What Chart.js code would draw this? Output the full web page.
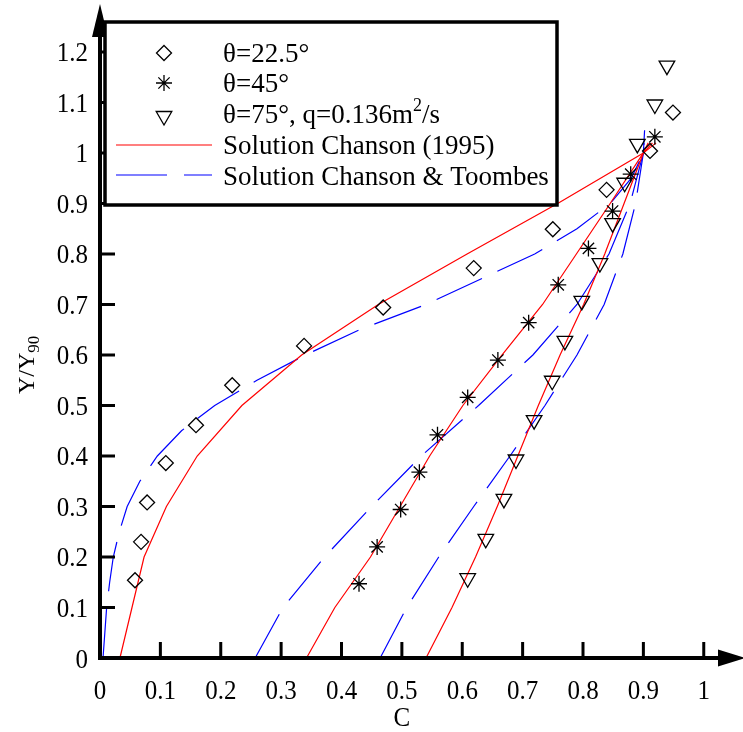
<!DOCTYPE html>
<html>
<head>
<meta charset="utf-8">
<script src="https://cdn.jsdelivr.net/npm/chart.js@4/dist/chart.umd.min.js"></script>
<style>
html,body{margin:0;padding:0;background:#fff;}
#c{display:block;}
</style>
</head>
<body>
<canvas id="c" width="743" height="732"></canvas>
<script>
// ---- Data ----
// Measured points, theta = 22.5 deg (diamonds)
const d225C = [0.058, 0.068, 0.078, 0.109, 0.159, 0.219, 0.338, 0.469, 0.619, 0.750, 0.839, 0.911, 0.949];
const d225Y = [0.154, 0.230, 0.308, 0.386, 0.461, 0.540, 0.618, 0.694, 0.772, 0.849, 0.927, 1.004, 1.080];
// Measured points, theta = 45 deg (asterisks)
const d45C = [0.429, 0.459, 0.498, 0.529, 0.559, 0.609, 0.659, 0.710, 0.759, 0.809, 0.849, 0.879, 0.919];
const d45Y = [0.147, 0.220, 0.294, 0.368, 0.442, 0.516, 0.590, 0.664, 0.739, 0.811, 0.885, 0.958, 1.032];
// Measured points, theta = 75 deg, q = 0.136 m2/s (triangles)
const d75C = [0.609, 0.639, 0.669, 0.689, 0.719, 0.749, 0.770, 0.798, 0.828, 0.849, 0.869, 0.890, 0.919, 0.939];
const d75Y = [0.158, 0.236, 0.315, 0.393, 0.471, 0.549, 0.628, 0.707, 0.782, 0.861, 0.941, 1.018, 1.096, 1.173];

// Solution Chanson (1995) - red curves
const ch225C = [0.033, 0.053, 0.073, 0.110, 0.161, 0.235, 0.334, 0.461, 0.608, 0.758, 0.900, 0.921];
const ch225Y = [0.000, 0.100, 0.200, 0.300, 0.400, 0.500, 0.600, 0.700, 0.800, 0.900, 1.000, 1.020];
const ch45C  = [0.342, 0.389, 0.448, 0.497, 0.546, 0.601, 0.666, 0.733, 0.789, 0.845, 0.900, 0.915];
const ch45Y  = [0.000, 0.100, 0.200, 0.300, 0.400, 0.500, 0.600, 0.700, 0.800, 0.900, 1.000, 1.020];
const ch75C  = [0.540, 0.583, 0.622, 0.658, 0.692, 0.726, 0.762, 0.801, 0.836, 0.868, 0.900, 0.908];
const ch75Y  = [0.000, 0.100, 0.200, 0.300, 0.400, 0.500, 0.600, 0.700, 0.800, 0.900, 1.000, 1.020];

// Solution Chanson & Toombes - blue dashed curves
const ct225C = [0.005, 0.008, 0.011, 0.016, 0.022, 0.032, 0.045, 0.066, 0.095, 0.135, 0.190, 0.260, 0.340, 0.430, 0.540, 0.630, 0.720, 0.790, 0.845, 0.880, 0.900, 0.902];
const ct225Y = [0.000, 0.050, 0.100, 0.150, 0.200, 0.250, 0.300, 0.350, 0.400, 0.450, 0.500, 0.550, 0.600, 0.650, 0.700, 0.750, 0.800, 0.850, 0.900, 0.950, 1.000, 1.045];
const ct45C  = [0.257, 0.303, 0.372, 0.450, 0.532, 0.627, 0.717, 0.790, 0.843, 0.878, 0.900, 0.902];
const ct45Y  = [0.000, 0.100, 0.200, 0.300, 0.400, 0.500, 0.600, 0.700, 0.800, 0.900, 1.000, 1.045];
const ct75C  = [0.464, 0.508, 0.561, 0.619, 0.679, 0.737, 0.790, 0.835, 0.866, 0.887, 0.900, 0.902];
const ct75Y  = [0.000, 0.100, 0.200, 0.300, 0.400, 0.500, 0.600, 0.700, 0.800, 0.900, 1.000, 1.045];

// Ticks
const xTickValues = [0, 0.1, 0.2, 0.3, 0.4, 0.5, 0.6, 0.7, 0.8, 0.9, 1];
const xTickLabels = ["0", "0.1", "0.2", "0.3", "0.4", "0.5", "0.6", "0.7", "0.8", "0.9", "1"];
const yTickValues = [0, 0.1, 0.2, 0.3, 0.4, 0.5, 0.6, 0.7, 0.8, 0.9, 1, 1.1, 1.2];
const yTickLabels = ["0", "0.1", "0.2", "0.3", "0.4", "0.5", "0.6", "0.7", "0.8", "0.9", "1", "1.1", "1.2"];

// Texts
const xTitle = "C";
const yTitleMain = "Y/Y";
const yTitleSub = "90";
const legendLabels = ["\u03B8=22.5\u00B0", "\u03B8=45\u00B0", "\u03B8=75\u00B0, q=0.136m", "Solution Chanson (1995)", "Solution Chanson & Toombes"];

// ---- build ----
const pts = (xs, ys) => xs.map((x, i) => ({x: x, y: ys[i]}));
const SERIF = '"Liberation Serif", "Times New Roman", serif';

const markerBase = {showLine: false, borderColor: '#000', backgroundColor: 'rgba(0,0,0,0)', pointBorderWidth: 1.3, clip: false};
const redBase = {showLine: true, borderColor: '#ff0000', borderWidth: 1.2, pointRadius: 0, tension: 0, clip: false};
const blueBase = {showLine: true, borderColor: '#0000ff', borderWidth: 1.2, pointRadius: 0, tension: 0, borderDash: [50, 17], clip: false};

const datasets = [
  Object.assign({label: legendLabels[0], data: pts(d225C, d225Y), pointStyle: 'rectRot', pointRadius: 7.5}, markerBase),
  Object.assign({label: legendLabels[1], data: pts(d45C, d45Y), pointStyle: 'star', pointRadius: 8}, markerBase),
  Object.assign({label: legendLabels[2], data: pts(d75C, d75Y), pointStyle: 'triangle', pointRadius: 9, pointRotation: 180}, markerBase),
  Object.assign({label: legendLabels[3], data: pts(ch225C, ch225Y)}, redBase),
  Object.assign({label: legendLabels[3], data: pts(ch45C, ch45Y)}, redBase),
  Object.assign({label: legendLabels[3], data: pts(ch75C, ch75Y)}, redBase),
  Object.assign({label: legendLabels[4], data: pts(ct225C, ct225Y)}, blueBase),
  Object.assign({label: legendLabels[4], data: pts(ct45C, ct45Y)}, blueBase),
  Object.assign({label: legendLabels[4], data: pts(ct75C, ct75Y)}, blueBase)
];

function drawMarker(ctx, style, x, y, r) {
  ctx.save();
  ctx.strokeStyle = '#000';
  ctx.lineWidth = 1.3;
  ctx.beginPath();
  if (style === 'rectRot') {
    ctx.moveTo(x, y - r); ctx.lineTo(x + r, y); ctx.lineTo(x, y + r); ctx.lineTo(x - r, y); ctx.closePath();
  } else if (style === 'star') {
    ctx.moveTo(x, y - r); ctx.lineTo(x, y + r);
    ctx.moveTo(x - r, y); ctx.lineTo(x + r, y);
    const d = r * Math.SQRT1_2;
    ctx.moveTo(x - d, y - d); ctx.lineTo(x + d, y + d);
    ctx.moveTo(x - d, y + d); ctx.lineTo(x + d, y - d);
  } else if (style === 'triangleDown') {
    const s = r * Math.sin(Math.PI / 3), c = r * 0.5;
    ctx.moveTo(x, y + r); ctx.lineTo(x - s, y - c); ctx.lineTo(x + s, y - c); ctx.closePath();
  }
  ctx.stroke();
  ctx.restore();
}

// text drawn slightly stretched vertically, as in the reference
function stretchedText(ctx, txt, x, y, sy) {
  ctx.save();
  ctx.translate(x, y);
  ctx.scale(1, sy);
  ctx.fillText(txt, 0, 0);
  ctx.restore();
}

const axesPlugin = {
  id: 'axesPlugin',
  afterDatasetsDraw(chart) {
    const ctx = chart.ctx;
    const xs = chart.scales.x, ys = chart.scales.y;
    const x0 = xs.getPixelForValue(0), y0 = ys.getPixelForValue(0);
    const xEnd = xs.right, yEnd = ys.top;
    ctx.save();
    ctx.fillStyle = '#000';
    ctx.strokeStyle = '#000';
    // axis lines
    ctx.lineWidth = 4;
    ctx.beginPath();
    ctx.moveTo(x0 - 2, y0); ctx.lineTo(xEnd - 22, y0);
    ctx.moveTo(x0, y0 + 2); ctx.lineTo(x0, yEnd + 30);
    ctx.stroke();
    // arrow heads
    ctx.beginPath();
    ctx.moveTo(xEnd - 25, y0 - 8.5); ctx.lineTo(xEnd + 2, y0); ctx.lineTo(xEnd - 25, y0 + 8.5); ctx.closePath();
    ctx.fill();
    ctx.beginPath();
    ctx.moveTo(x0 - 8, yEnd + 32); ctx.lineTo(x0, yEnd - 1); ctx.lineTo(x0 + 8, yEnd + 32); ctx.closePath();
    ctx.fill();
    // ticks
    ctx.lineWidth = 3;
    ctx.beginPath();
    xTickValues.forEach(v => {
      if (v === 0) return;
      const px = xs.getPixelForValue(v);
      ctx.moveTo(px, y0); ctx.lineTo(px, y0 - 16);
    });
    yTickValues.forEach(v => {
      if (v === 0) return;
      const py = ys.getPixelForValue(v);
      ctx.moveTo(x0, py); ctx.lineTo(x0 + 15, py);
    });
    ctx.stroke();
    // tick labels
    ctx.font = '25px ' + SERIF;
    ctx.textAlign = 'center';
    ctx.textBaseline = 'alphabetic';
    xTickValues.forEach((v, i) => {
      stretchedText(ctx, xTickLabels[i], xs.getPixelForValue(v), y0 + 41, 1.08);
    });
    ctx.textAlign = 'right';
    yTickValues.forEach((v, i) => {
      stretchedText(ctx, yTickLabels[i], x0 - 12, ys.getPixelForValue(v) + 9.5, 1.08);
    });
    // axis titles
    ctx.textAlign = 'center';
    stretchedText(ctx, xTitle, xs.getPixelForValue(0.5), y0 + 68, 1.08);
    ctx.save();
    ctx.translate(34, 394);
    ctx.rotate(-Math.PI / 2);
    ctx.textAlign = 'left';
    ctx.font = '24px ' + SERIF;
    ctx.fillText(yTitleMain, 0, 0);
    const w = ctx.measureText(yTitleMain).width;
    ctx.font = '17px ' + SERIF;
    ctx.fillText(yTitleSub, w, 5);
    ctx.restore();

    // legend box
    const L = 105, T = 22, R = 557, B = 205;
    ctx.fillStyle = '#fff';
    ctx.fillRect(L, T, R - L, B - T);
    ctx.lineWidth = 3.5;
    ctx.strokeStyle = '#000';
    ctx.strokeRect(L, T, R - L, B - T);
    drawMarker(ctx, 'rectRot', 164, 53, 7.5);
    drawMarker(ctx, 'star', 164, 83, 8);
    drawMarker(ctx, 'triangleDown', 164, 116, 9);
    ctx.lineWidth = 1.2;
    ctx.strokeStyle = '#ff0000';
    ctx.beginPath(); ctx.moveTo(116, 145); ctx.lineTo(212, 145); ctx.stroke();
    ctx.strokeStyle = '#0000ff';
    ctx.setLineDash([51, 17]);
    ctx.beginPath(); ctx.moveTo(116, 175); ctx.lineTo(212, 175); ctx.stroke();
    ctx.setLineDash([]);
    ctx.fillStyle = '#000';
    ctx.font = '27px ' + SERIF;
    ctx.textAlign = 'left';
    const tx = 223;
    ctx.fillText(legendLabels[0], tx, 62);
    ctx.fillText(legendLabels[1], tx, 92);
    ctx.fillText(legendLabels[2], tx, 123);
    const w2 = ctx.measureText(legendLabels[2]).width;
    ctx.font = '18px ' + SERIF;
    ctx.fillText('2', tx + w2, 111);
    const w3 = ctx.measureText('2').width;
    ctx.font = '27px ' + SERIF;
    ctx.fillText('/s', tx + w2 + w3, 123);
    ctx.fillText(legendLabels[3], tx, 154);
    ctx.fillText(legendLabels[4], tx, 185);
    ctx.restore();
  }
};

new Chart(document.getElementById('c'), {
  type: 'scatter',
  data: {datasets: datasets},
  options: {
    responsive: false,
    animation: false,
    devicePixelRatio: 1,
    layout: {autoPadding: false, padding: {left: 100, right: 0, top: 5, bottom: 74}},
    scales: {
      x: {type: 'linear', min: 0, max: 1.065, display: false},
      y: {type: 'linear', min: 0, max: 1.293, display: false}
    },
    plugins: {legend: {display: false}, tooltip: {enabled: false}},
    events: []
  },
  plugins: [axesPlugin]
});
</script>
</body>
</html>
